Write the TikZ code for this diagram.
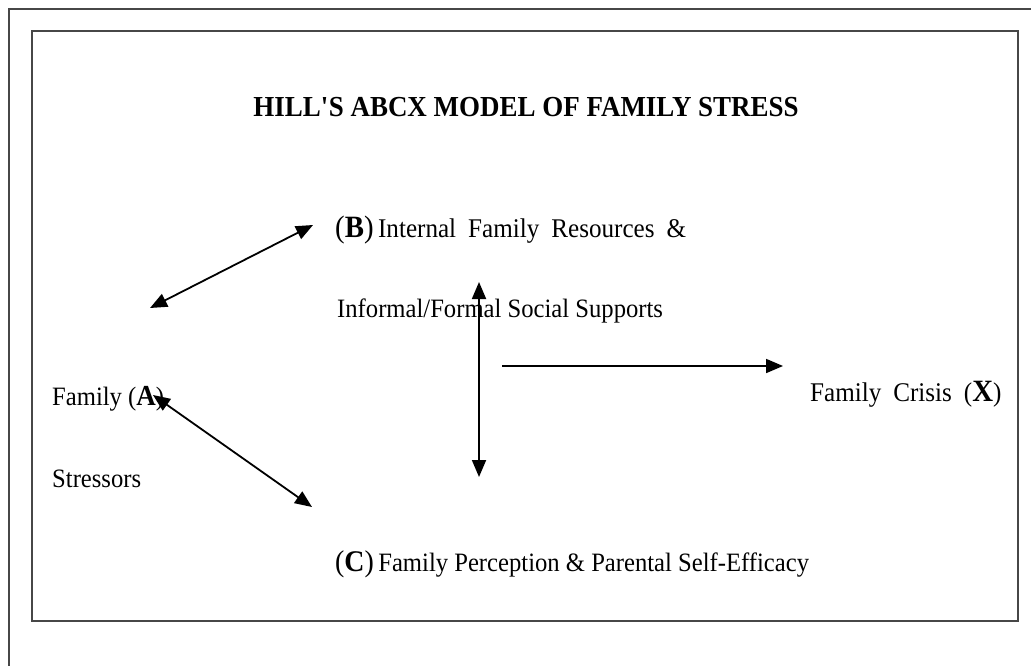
\documentclass[tikz,border=0pt]{standalone}
\usepackage{fontspec}
\setmainfont{Liberation Serif}
\newfontfamily\diagfont[FakeStretch=0.93]{Liberation Serif}
\newcommand\widewords{\spaceskip 12pt\relax}
\usetikzlibrary{arrows.meta, positioning}

\begin{document}
\begin{tikzpicture}[x=1pt,y=-1pt,
  frame/.style={line width=2.2pt, draw=black!72},
  link/.style={line width=1.8pt, {Triangle[length=17pt,width=14pt]}-{Triangle[length=17pt,width=14pt]}},
  oneway/.style={line width=1.8pt, -{Triangle[length=17pt,width=14pt]}},
  txt/.style={anchor=base west, inner sep=0pt, font=\diagfont\fontsize{26.5}{30}\selectfont},
  widetxt/.style={txt, font=\diagfont\fontsize{27}{30}\selectfont\widewords}]
\useasboundingbox (0,0) rectangle (1031,666);
\draw [frame] (1040,9) -- (9,9) -- (9,675);
\draw [frame] (32,31) rectangle (1018,621);

\node [anchor=base, inner sep=0pt, font=\diagfont\bfseries\fontsize{29}{34}\selectfont] (title) at (526,117) {HILL\textquotesingle S ABCX MODEL OF FAMILY STRESS};

\node [widetxt] (resources) at (335,237) {{\fontsize{31}{30}\selectfont(\textbf{B})}\,Internal Family Resources \&};
\node [txt] (supports) at (337,317) {Informal/Formal Social Supports};
\node [txt] (perception) at (335,571) {{\fontsize{30}{30}\selectfont(\textbf{C})}\,Family Perception \& Parental Self-Efficacy};
\node [widetxt] (crisis) at (810,401) {Family Crisis ({\fontsize{31}{30}\selectfont\textbf{X}})};
\node [txt] (family) at (52,405) {Family ({\fontsize{29}{30}\selectfont\textbf{A}})};
\node [txt] (stressors) at (52,487) {Stressors};

\coordinate (ab1) at (150,308);
\coordinate (ab2) at (313,225);
\coordinate (ac1) at (153,395);
\coordinate (ac2) at (312,507);
\coordinate (bc1) at (479,282);
\coordinate (bc2) at (479,477);
\coordinate (bx1) at (502,366);
\coordinate (bx2) at (783,366);

\draw [link] (ab1) -- (ab2);
\draw [link] (ac1) -- (ac2);
\draw [link] (bc1) -- (bc2);
\draw [oneway] (bx1) -- (bx2);
\end{tikzpicture}
\end{document}
